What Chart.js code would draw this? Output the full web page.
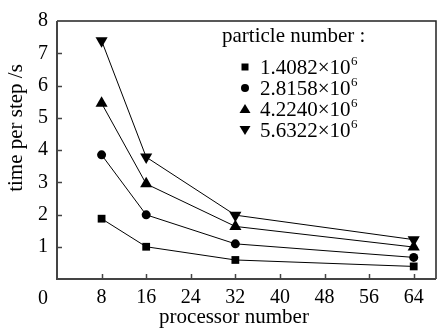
<!DOCTYPE html>
<html><head><meta charset="utf-8">
<style>html,body{margin:0;padding:0;background:#fff}#wrap{width:443px;height:329px}</style>
<script src="https://cdn.jsdelivr.net/npm/chart.js@4"></script>
</head><body><div id="wrap"><canvas id="c" width="443" height="329"></canvas></div>
<script>
const processors = [8, 16, 32, 64];
const seriesLabels = ['1.4082', '2.8158', '4.2240', '5.6322'];
const seriesExp = '6';
const series1 = [1.87, 1.00, 0.59, 0.39];
const series2 = [3.85, 1.99, 1.09, 0.67];
const series3 = [5.45, 2.95, 1.63, 0.99];
const series4 = [7.39, 3.78, 1.98, 1.22];
const xTicks = [0, 8, 16, 24, 32, 40, 48, 56, 64];
const yTicks = [0, 1, 2, 3, 4, 5, 6, 7, 8];
const legendTitle = 'particle number :';
const xTitle = 'processor number';
const yTitle = 'time per step /s';

const FONT = '"Liberation Serif", "Times New Roman", serif';
const styles = [
  {pointStyle: 'rect', rotation: 0, radius: 5.5},
  {pointStyle: 'circle', rotation: 0, radius: 4.5},
  {pointStyle: 'triangle', rotation: 0, radius: 7},
  {pointStyle: 'triangle', rotation: 180, radius: 7}
];
const allSeries = [series1, series2, series3, series4];

const datasets = allSeries.map((s, i) => ({
  label: seriesLabels[i],
  data: processors.map((p, j) => ({x: p, y: s[j]})),
  borderColor: '#000',
  backgroundColor: '#000',
  borderWidth: 1,
  pointStyle: styles[i].pointStyle,
  rotation: styles[i].rotation,
  pointRadius: styles[i].radius,
  pointBorderWidth: 0,
  pointBackgroundColor: '#000',
  tension: 0,
  showLine: true
}));

const decor = {
  id: 'decor',
  afterDraw(chart) {
    const ctx = chart.ctx;
    const a = chart.chartArea;
    const xs = chart.scales.x, ys = chart.scales.y;
    ctx.save();
    // frame
    ctx.strokeStyle = '#222';
    ctx.lineWidth = 1.5;
    ctx.beginPath();
    ctx.moveTo(a.left, a.top); ctx.lineTo(a.right, a.top); ctx.lineTo(a.right, a.bottom);
    ctx.stroke();
    ctx.strokeStyle = '#444';
    ctx.lineWidth = 2;
    ctx.beginPath();
    ctx.moveTo(a.left, a.top); ctx.lineTo(a.left, a.bottom); ctx.lineTo(a.right, a.bottom);
    ctx.stroke();
    // inward ticks
    ctx.lineWidth = 1.5;
    xTicks.slice(1).forEach(v => {
      const px = Math.round(xs.getPixelForValue(v)) + 0.5;
      ctx.beginPath(); ctx.moveTo(px, a.bottom); ctx.lineTo(px, a.bottom - 5); ctx.stroke();
    });
    yTicks.slice(1, -1).forEach(v => {
      const py = Math.round(ys.getPixelForValue(v)) + 0.5;
      ctx.beginPath(); ctx.moveTo(a.left, py); ctx.lineTo(a.left + 5, py); ctx.stroke();
    });
    ctx.fillStyle = '#000';
    // shared origin label
    ctx.font = '20px ' + FONT;
    ctx.textAlign = 'center';
    ctx.textBaseline = 'alphabetic';
    ctx.fillText(String(xTicks[0]), 43, 304);
    // axis titles
    ctx.font = '21px ' + FONT;
    ctx.fillText(xTitle, 234, 323);
    ctx.save();
    ctx.translate(16, 128);
    ctx.rotate(-Math.PI / 2);
    ctx.textBaseline = 'middle';
    ctx.fillText(yTitle, 0, 0);
    ctx.restore();
    // legend
    ctx.textAlign = 'left';
    ctx.textBaseline = 'alphabetic';
    ctx.font = '21px ' + FONT;
    ctx.fillText(legendTitle, 222, 42);
    seriesLabels.forEach((lab, i) => {
      const base = 74 + i * 21;
      const cy = base - 7;
      const cx = 245;
      ctx.fillStyle = '#000';
      ctx.beginPath();
      const st = styles[i];
      if (st.pointStyle === 'rect') {
        ctx.rect(cx - 3.5, cy - 3.5, 7, 7);
      } else if (st.pointStyle === 'circle') {
        ctx.arc(cx, cy, 4, 0, Math.PI * 2);
      } else if (st.rotation === 0) {
        ctx.moveTo(cx, cy - 5); ctx.lineTo(cx + 5.5, cy + 4); ctx.lineTo(cx - 5.5, cy + 4); ctx.closePath();
      } else {
        ctx.moveTo(cx, cy + 5); ctx.lineTo(cx + 5.5, cy - 4); ctx.lineTo(cx - 5.5, cy - 4); ctx.closePath();
      }
      ctx.fill();
      ctx.font = '21px ' + FONT;
      const t = lab + '\u00d710';
      ctx.fillText(t, 260, base);
      const w = ctx.measureText(t).width;
      ctx.font = '13px ' + FONT;
      ctx.fillText(seriesExp, 260 + w + 0.5, base - 9);
    });
    ctx.restore();
  }
};

new Chart(document.getElementById('c'), {
  type: 'line',
  data: {datasets},
  plugins: [decor],
  options: {
    responsive: false,
    devicePixelRatio: 1,
    animation: false,
    layout: {padding: {top: 13, right: 2, left: 0, bottom: 0}},
    plugins: {legend: {display: false}, tooltip: {enabled: false}},
    scales: {
      x: {
        type: 'linear', min: 0, max: 68,
        afterBuildTicks(scale) { scale.ticks = xTicks.map(v => ({value: v})); },
        afterFit(scale) { scale.height = 50; },
        grid: {display: false, drawTicks: false},
        border: {display: false},
        ticks: {
          color: '#000', padding: 7, maxRotation: 0, autoSkip: false,
          font: {family: FONT, size: 20},
          callback: v => (v === xTicks[0] ? '' : String(v))
        },
        title: {display: false}
      },
      y: {
        type: 'linear', min: 0, max: 8,
        afterBuildTicks(scale) { scale.ticks = yTicks.map(v => ({value: v})); },
        afterFit(scale) { scale.width = 57; },
        grid: {display: false, drawTicks: false},
        border: {display: false},
        ticks: {
          color: '#000', padding: 9,
          font: {family: FONT, size: 20},
          callback: v => (v === yTicks[0] ? '' : String(v))
        },
        title: {display: false}
      }
    }
  }
});
</script></body></html>
